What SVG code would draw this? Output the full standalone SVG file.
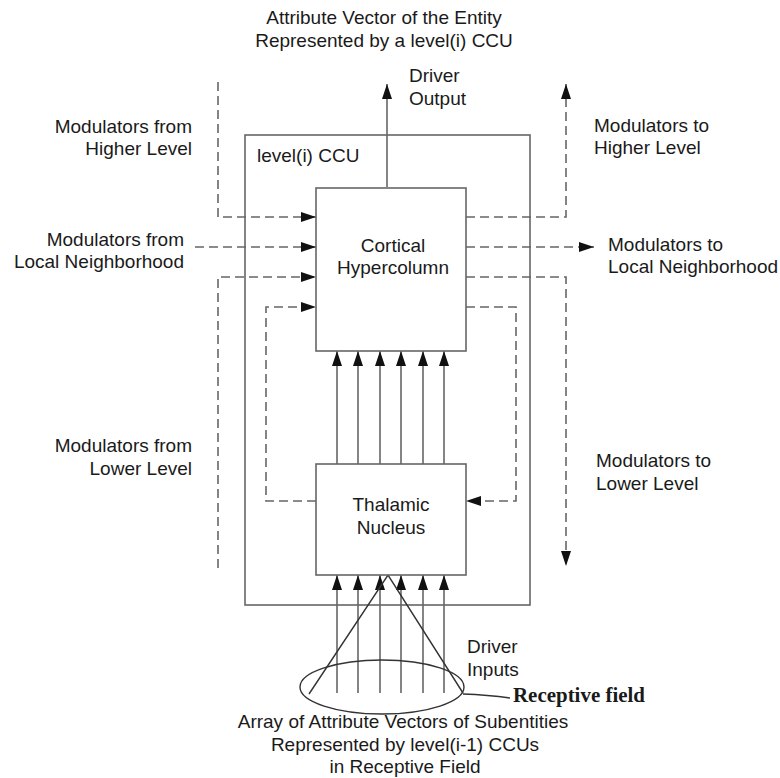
<svg xmlns="http://www.w3.org/2000/svg" width="780" height="778" viewBox="0 0 780 778">
<defs>
<style>
text{font-family:"Liberation Sans",Arial,sans-serif;font-size:19px;fill:#1a1a1a}
.mid{text-anchor:middle}
.end{text-anchor:end}
.rf{font-family:"Liberation Serif","Times New Roman",serif;font-weight:bold;font-size:20px}
.box{fill:#fff;stroke:#666;stroke-width:1.6}
.solid{fill:none;stroke:#666;stroke-width:1.6}
.dash{fill:none;stroke:#666;stroke-width:1.6;stroke-dasharray:9 5}
</style>
<marker id="arr" markerUnits="userSpaceOnUse" markerWidth="15" markerHeight="10" refX="15" refY="5" orient="auto">
<path d="M0,0 L15,5 L0,10 z" fill="#111"/>
</marker>
</defs>
<rect width="780" height="778" fill="#fff"/>

<g id="ccu">
<rect class="box" x="245" y="135" width="285" height="470" fill="none"/>
<text x="257" y="162">level(i) CCU</text>
</g>

<g id="connectors">
<path class="solid" d="M387,187 V84" marker-end="url(#arr)"/>
<path class="dash" d="M218,82 V217 H316" marker-end="url(#arr)"/>
<path class="dash" d="M195,247 H316" marker-end="url(#arr)"/>
<path class="dash" d="M218,568 V277 H316" marker-end="url(#arr)"/>
<path class="dash" d="M316,501 H266 V307 H316" marker-end="url(#arr)"/>
<path class="dash" d="M466,217 H566 V84" marker-end="url(#arr)"/>
<path class="dash" d="M466,247 H594" marker-end="url(#arr)"/>
<path class="dash" d="M466,277 H566 V566" marker-end="url(#arr)"/>
<path class="dash" d="M466,307 H516 V501 H466" marker-end="url(#arr)"/>
<g id="drivers-up">
<path class="solid" d="M337,464 V351" marker-end="url(#arr)"/>
<path class="solid" d="M358,464 V351" marker-end="url(#arr)"/>
<path class="solid" d="M380,464 V351" marker-end="url(#arr)"/>
<path class="solid" d="M401,464 V351" marker-end="url(#arr)"/>
<path class="solid" d="M423,464 V351" marker-end="url(#arr)"/>
<path class="solid" d="M444,464 V351" marker-end="url(#arr)"/>
</g>
<g id="driver-inputs">
<path class="solid" d="M337,693 V575" marker-end="url(#arr)"/>
<path class="solid" d="M358,693 V575" marker-end="url(#arr)"/>
<path class="solid" d="M380,693 V575" marker-end="url(#arr)"/>
<path class="solid" d="M401,693 V575" marker-end="url(#arr)"/>
<path class="solid" d="M423,693 V575" marker-end="url(#arr)"/>
<path class="solid" d="M444,693 V575" marker-end="url(#arr)"/>
</g>
<path d="M309,694 L388,575 L463,693" fill="none" stroke="#333" stroke-width="1.4"/>
<path d="M463,694 Q488,695 510,698" fill="none" stroke="#333" stroke-width="1.4"/>
</g>

<g id="cortical">
<rect class="box" x="316" y="188" width="150" height="163"/>
<text class="mid" x="393" y="252">Cortical</text>
<text class="mid" x="393" y="274">Hypercolumn</text>
</g>

<g id="thalamic">
<rect class="box" x="316" y="464" width="150" height="111"/>
<text class="mid" x="391" y="511">Thalamic</text>
<text class="mid" x="391" y="534">Nucleus</text>
</g>

<g id="receptive-field">
<ellipse cx="382" cy="687" rx="82" ry="27" fill="none" stroke="#333" stroke-width="1.4"/>
<text class="rf" x="513" y="702" textLength="132" lengthAdjust="spacingAndGlyphs">Receptive field</text>
</g>

<g id="labels">
<text class="mid" x="384" y="24">Attribute Vector of the Entity</text>
<text class="mid" x="384" y="47">Represented by a level(i) CCU</text>
<text x="409" y="82">Driver</text>
<text x="409" y="105">Output</text>
<text class="end" x="192" y="133">Modulators from</text>
<text class="end" x="192" y="155">Higher Level</text>
<text class="end" x="184" y="246">Modulators from</text>
<text class="end" x="184" y="268">Local Neighborhood</text>
<text class="end" x="192" y="452">Modulators from</text>
<text class="end" x="192" y="475">Lower Level</text>
<text x="594" y="132">Modulators to</text>
<text x="594" y="154">Higher Level</text>
<text x="608" y="251">Modulators to</text>
<text x="608" y="273">Local Neighborhood</text>
<text x="596" y="467">Modulators to</text>
<text x="596" y="490">Lower Level</text>
<text x="467" y="653">Driver</text>
<text x="467" y="676">Inputs</text>
<text class="mid" x="403" y="728">Array of Attribute Vectors of Subentities</text>
<text class="mid" x="405" y="751">Represented by level(i-1) CCUs</text>
<text class="mid" x="405" y="773">in Receptive Field</text>
</g>
</svg>
